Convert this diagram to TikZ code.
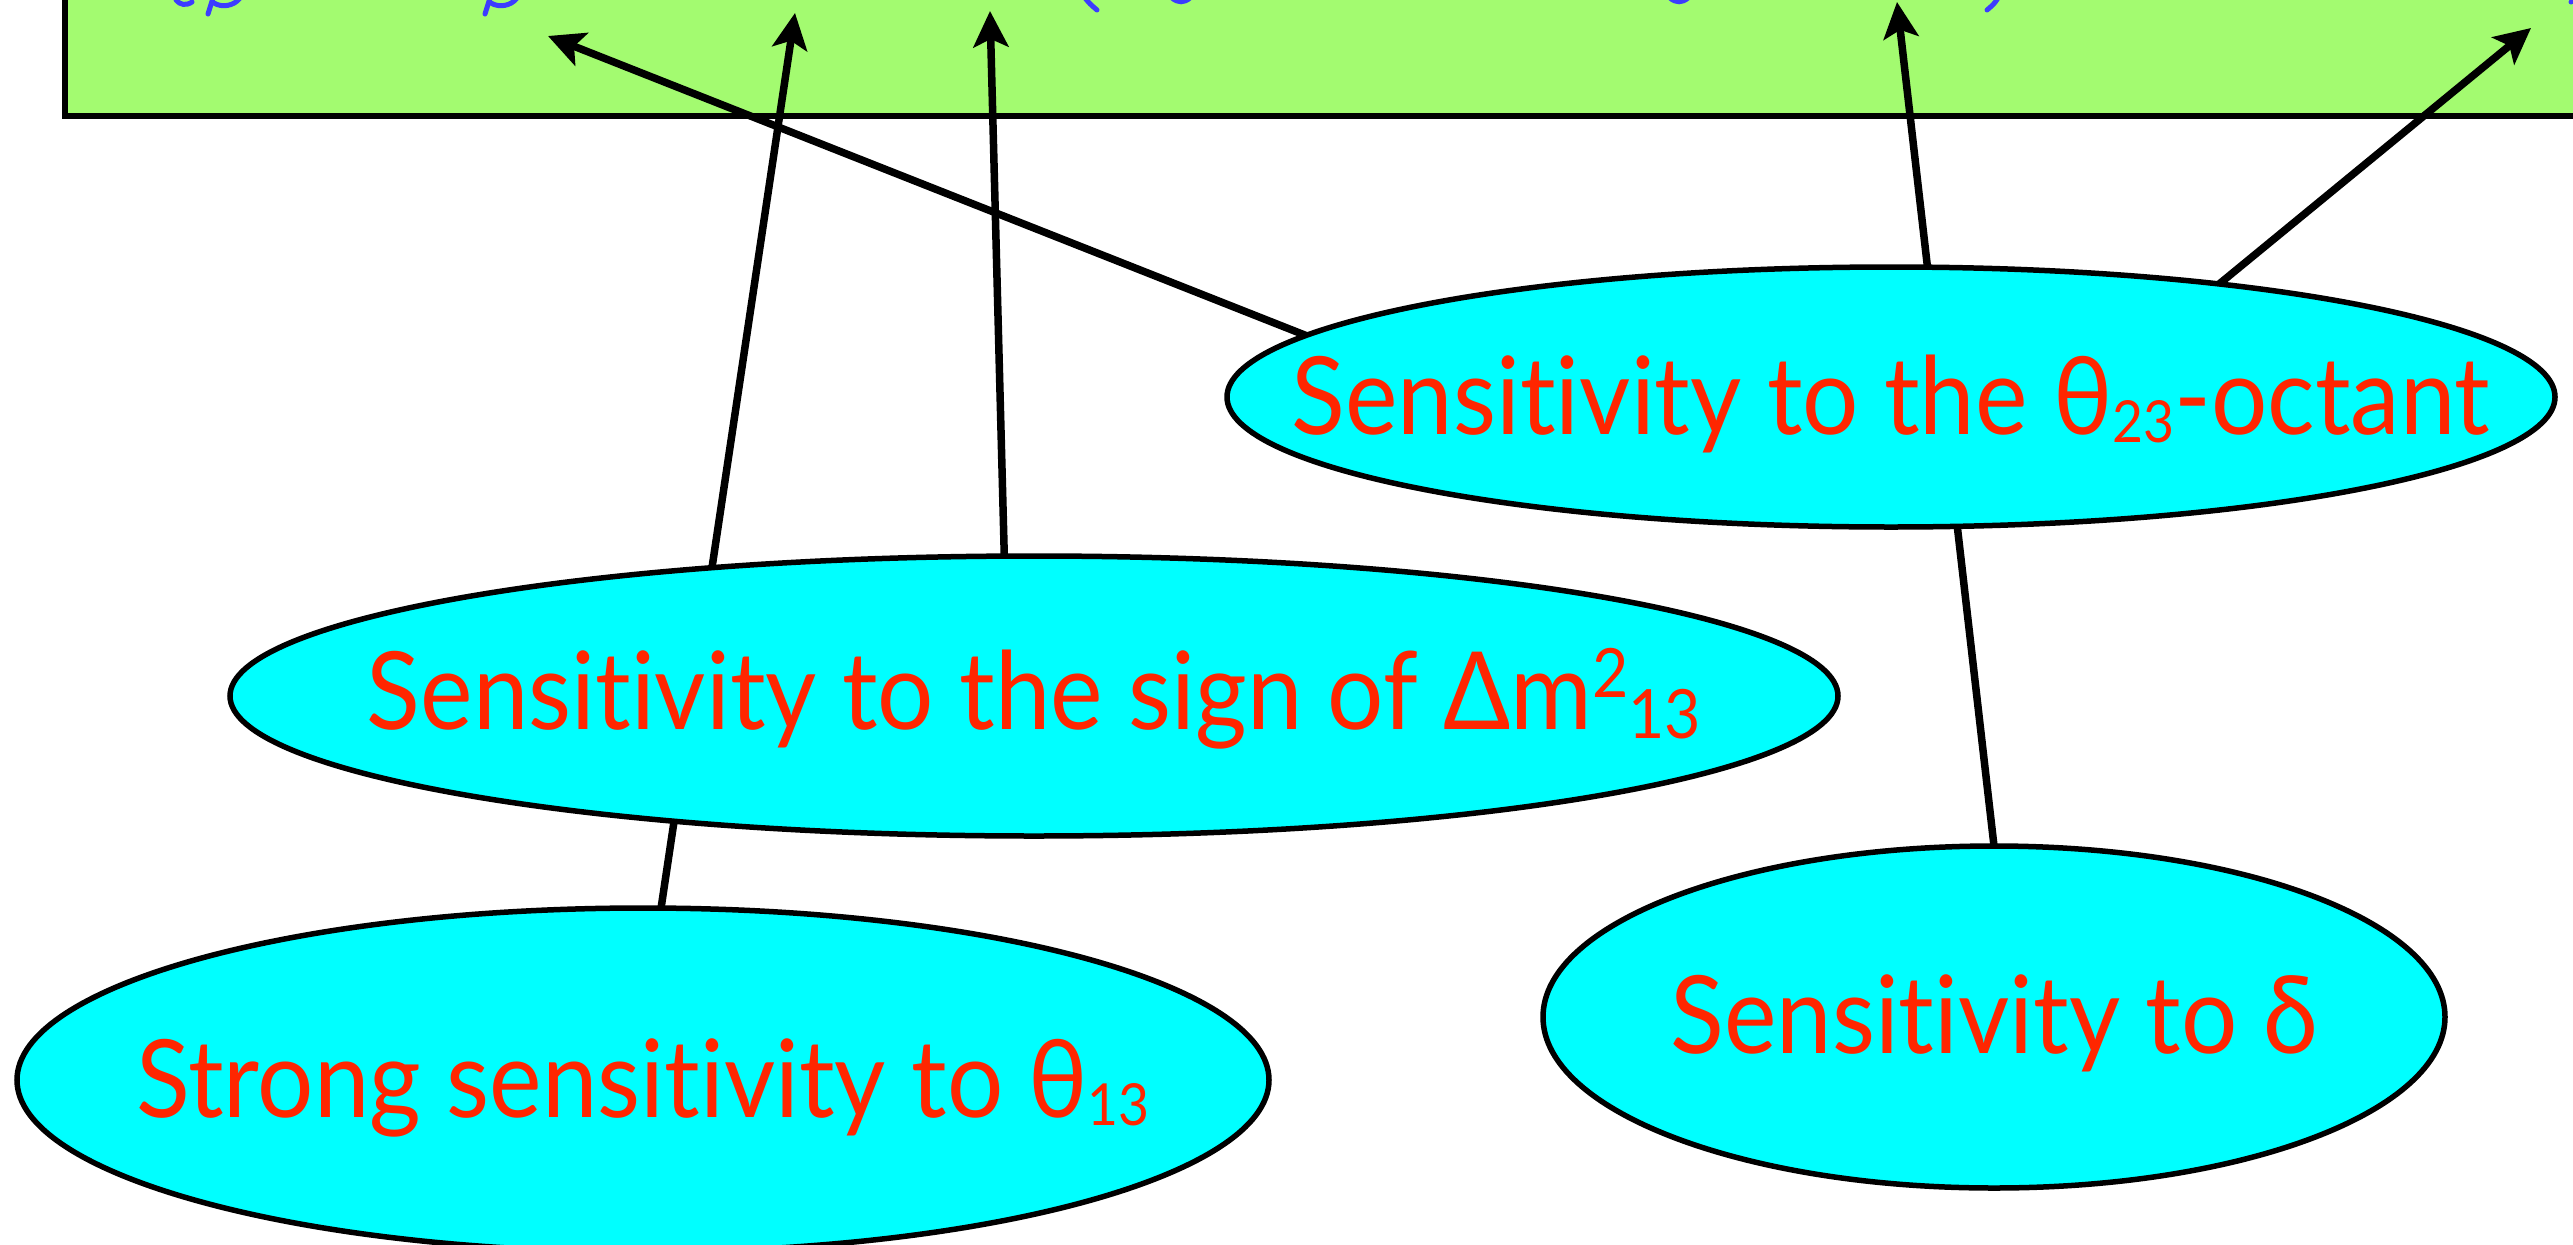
\documentclass[tikz,border=0pt]{standalone}
\usepackage{fontspec}
\setmainfont{Lato}[Ligatures={NoCommon}]
\usetikzlibrary{shapes.geometric,arrows.meta}
\definecolor{boxgreen}{RGB}{163,251,112}
\definecolor{ellcyan}{RGB}{0,255,255}
\definecolor{txtred}{RGB}{255,38,0}
\definecolor{txtblue}{RGB}{60,60,255}
\newcommand{\lsub}[3]{\raisebox{-#2pt}{\fontsize{#1}{#1}\selectfont #3}}
\newcommand{\lsup}[3]{\raisebox{#2pt}{\fontsize{#1}{#1}\selectfont #3}}
\newcommand{\narrow}[2][0.92]{\scalebox{#1}[1]{#2}}
\pgfdeclarelayer{bglayer}
\pgfdeclarelayer{linelayer}
\pgfsetlayers{bglayer,linelayer,main}
\begin{document}
\begin{tikzpicture}[x=1pt,y=-1pt,
  oval/.style={ellipse, draw=black, line width=5.5pt, fill=ellcyan, inner sep=0pt, outer sep=0pt},
  lbl/.style={text=txtred, font=\fontsize{108}{120}\selectfont, anchor=base, inner sep=0pt},
  conn/.style={line width=7.5pt, -{Stealth[length=36pt,width=35pt,inset=8pt]}},
  frag/.style={txtblue, line width=5pt, line cap=round}]
\useasboundingbox (0,0) rectangle (2573,1245);
\clip (0,0) rectangle (2573,1245);

\begin{pgfonlayer}{bglayer}
\node[draw=black, line width=6pt, fill=boxgreen, inner sep=0pt, outer sep=0pt,
      minimum width=2700pt, minimum height=320pt, anchor=south west] (topbox) at (64.5,115.8) {};
% fragments of the cut-off blue text
\draw[frag] (213,-2) -- (208,14);
\draw[frag] (214,3) .. controls (222,8) and (234,6) .. (240,-2);
\draw[frag] (176,0) .. controls (180,5) and (186,6) .. (192,2);
\draw[frag] (490,-2) -- (485,14);
\draw[frag] (491,3) .. controls (499,8) and (511,6) .. (517,-2);
\draw[frag] (1085,-2) .. controls (1090,4) .. (1097,10);
\draw[frag] (1172,-2) .. controls (1178,3) and (1184,3) .. (1190,-2);
\draw[frag] (1670,-2) .. controls (1676,3) and (1682,3) .. (1688,-2);
\draw[frag] (1998,-2) .. controls (1994,4) .. (1987,10);
\fill[txtblue] (2571,2) circle (2.5);
\end{pgfonlayer}

\node[oval, minimum width=1328pt, minimum height=260pt] (oct) at (1891,397) {};
\node[oval, minimum width=1608pt, minimum height=280pt] (sgn) at (1034,696) {};
\node[oval, minimum width=1252pt, minimum height=344pt] (t13) at (643,1080) {};
\node[oval, minimum width=902pt, minimum height=342pt] (dlt) at (1994,1017) {};

\node[lbl, yshift=-37pt] (toct) at (oct) {\narrow{Sensitivity to the θ\lsub{58}{8}{23}-octant}};
\node[lbl, yshift=-33pt] (tsgn) at (sgn) {\narrow{Sensitivity to the sign of Δm\lsup{68}{32}{2}\lsub{68}{9}{13}}};
\node[lbl, yshift=-37pt] (tt13) at (t13) {\narrow{Strong sensitivity to θ\lsub{58}{8}{13}}};
\node[lbl, yshift=-36pt] (tdlt) at (dlt) {\narrow{Sensitivity to δ}};

\coordinate (tipA) at (548,36);
\coordinate (tipB) at (795,13);
\coordinate (tipC) at (990,11);
\coordinate (tipD) at (1897,2);
\coordinate (tipE) at (2531,28);

\begin{pgfonlayer}{linelayer}
\draw[conn] (oct.174) -- (tipA);
\draw[conn] (t13.84) -- (tipB);
\draw[conn] (sgn.102) -- (tipC);
\draw[conn] (dlt.north) -- (tipD);
\draw[conn] (oct.19) -- (tipE);
\end{pgfonlayer}
\end{tikzpicture}
\end{document}
